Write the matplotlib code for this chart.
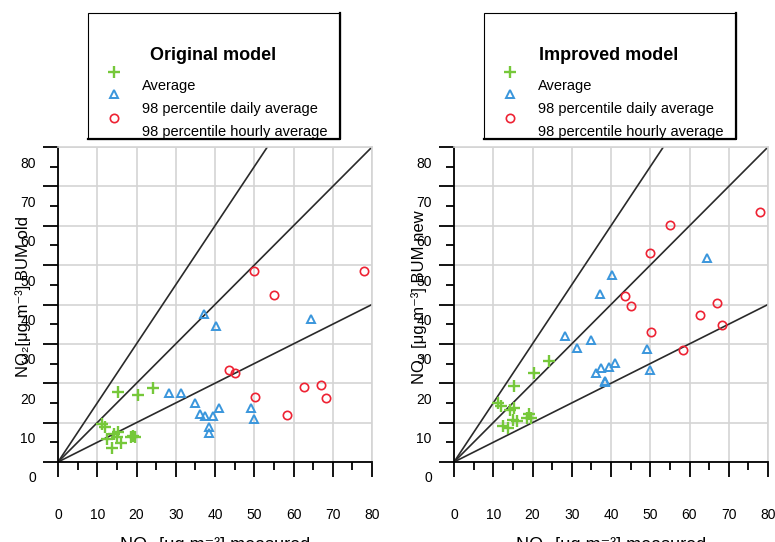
import matplotlib.pyplot as plt
from matplotlib.lines import Line2D
from matplotlib.patches import Rectangle
from matplotlib.transforms import ScaledTranslation

plt.rcParams['font.family'] = ['Liberation Sans', 'DejaVu Sans']

W, H = 775, 542

# annual average (measured, BUM old, BUM new)
avg_meas = [11.1, 12.0, 12.5, 13.7, 14.3, 15.1, 15.4, 15.3, 16.0, 18.6, 19.2, 19.7, 20.3, 24.2]
avg_old = [9.7, 9.0, 5.9, 3.5, 7.0, 6.4, 7.7, 17.9, 4.9, 6.3, 6.5, 6.3, 17.0, 18.7]
avg_new = [14.9, 14.2, 9.2, 8.6, 13.2, 10.7, 13.7, 19.4, 10.4, 11.2, 12.1, 11.2, 22.7, 25.6]

# 98 percentile daily average
day_meas = [28.4, 31.3, 34.85, 36.25, 37.25, 37.5, 38.5, 38.5, 39.4, 40.15, 40.95, 49.1, 49.95, 64.5]
day_old = [17.6, 17.6, 14.9, 12.3, 37.5, 11.7, 8.8, 7.4, 11.8, 34.6, 13.8, 13.8, 10.9, 36.3]
day_new = [32.1, 28.9, 31.0, 22.6, 42.7, 23.9, 20.6, 20.4, 24.1, 47.4, 25.1, 28.6, 23.4, 51.8]

# 98 percentile hourly average
hour_meas = [43.6, 45.2, 49.9, 50.3, 55.0, 58.4, 62.8, 66.9, 68.3, 78.0]
hour_old = [23.3, 22.5, 48.6, 16.4, 42.4, 12.0, 19.1, 19.5, 16.2, 48.4]
hour_new = [42.2, 39.6, 53.2, 32.9, 60.1, 28.5, 37.3, 40.3, 34.8, 63.5]

ratios = [0.5, 1.0, 1.5]
ticks = [0, 10, 20, 30, 40, 50, 60, 70, 80]
minor = [5, 15, 25, 35, 45, 55, 65, 75]
labels = ['Average', '98 percentile daily average', '98 percentile hourly average']

green = '#76c83a'
blue = '#3a96dc'
red = '#ee2233'
grid = '#d4d4d4'

fig = plt.figure(figsize=(W / 100, H / 100), dpi=100)


def panel(x0, old_new, title, ylab):
    ax = fig.add_axes([x0 / W, (H - 462) / H, 314 / W, 315 / H])
    ax.set_xlim(0, 80)
    ax.set_ylim(0, 80)
    ax.set_xticks(ticks)
    ax.set_yticks(ticks)
    ax.set_xticks(minor, minor=True)
    ax.set_yticks(minor, minor=True)
    ax.grid(True, which='major', color=grid, lw=1.2)
    ax.set_axisbelow(True)
    for s in ['top', 'right']:
        ax.spines[s].set_color(grid)
        ax.spines[s].set_linewidth(1.2)
    for s in ['left', 'bottom']:
        ax.spines[s].set_linewidth(1.3)
    ax.tick_params(which='major', length=11, width=1.3, labelsize=10, direction='out')
    ax.tick_params(which='minor', length=5.8, width=1.3, direction='out')
    ax.tick_params(axis='x', which='major', pad=22)
    ax.tick_params(axis='y', which='major', pad=5)
    # the y tick labels sit half a step lower than their ticks
    for lbl in ax.get_yticklabels():
        lbl.set_transform(lbl.get_transform() + ScaledTranslation(0, -0.15, fig.dpi_scale_trans))

    for r in ratios:
        ax.plot([0, 80], [0, 80 * r], color='#2a2a2a', lw=1.2)

    ya, yd, yh = old_new
    ax.plot(avg_meas, ya, ls='none', marker='+', ms=8.5, mew=1.7, color=green)
    ax.plot(day_meas, yd, ls='none', marker='^', ms=5.5, mew=1.4, mfc='none', mec=blue)
    ax.plot(hour_meas, yh, ls='none', marker='o', ms=6, mew=1.2, mfc='none', mec=red)

    ax.set_ylabel(ylab, fontsize=12, va='center')
    ax.yaxis.set_label_coords(-35 / 314, 0.524)
    ax.set_xlabel('NO₂ [μg m⁻³] measured', fontsize=13, va='top')
    ax.xaxis.set_label_coords(0.5, -75 / 315)

    # legend box
    dx = x0 - 58
    bx0, bx1, by0, by1 = 88 + dx, 340 + dx, 13, 139
    fig.add_artist(Rectangle((bx0 / W, 1 - by1 / H), (bx1 - bx0) / W, (by1 - by0) / H,
                             fill=False, ec='black', lw=0.8, transform=fig.transFigure))
    fig.add_artist(Line2D([bx1 / W, bx1 / W, bx0 / W], [1 - by0 / H, 1 - by1 / H, 1 - by1 / H],
                          color='black', lw=1.6, transform=fig.transFigure))
    fig.text((213 + dx) / W, 1 - 55 / H, title, fontsize=13, fontweight='bold',
             ha='center', va='center')
    styles = [dict(marker='+', ms=8.5, mew=1.7, color=green),
              dict(marker='^', ms=5.5, mew=1.4, mfc='none', mec=blue),
              dict(marker='o', ms=6, mew=1.2, mfc='none', mec=red)]
    for st, my in zip(styles, [72, 94, 118]):
        fig.add_artist(Line2D([(114 + dx) / W], [1 - my / H], ls='none',
                              transform=fig.transFigure, **st))
    for lab, ty in zip(labels, [86, 109, 132]):
        fig.text((142 + dx) / W, 1 - ty / H, lab, fontsize=10.5, ha='left', va='center')
    return ax


panel(58, (avg_old, day_old, hour_old), 'Original model', 'NO₂[μg m⁻³] BUM old')
panel(454, (avg_new, day_new, hour_new), 'Improved model', 'NO₂ [μg m⁻³] BUM new')

fig.savefig('out.png', dpi=100)
